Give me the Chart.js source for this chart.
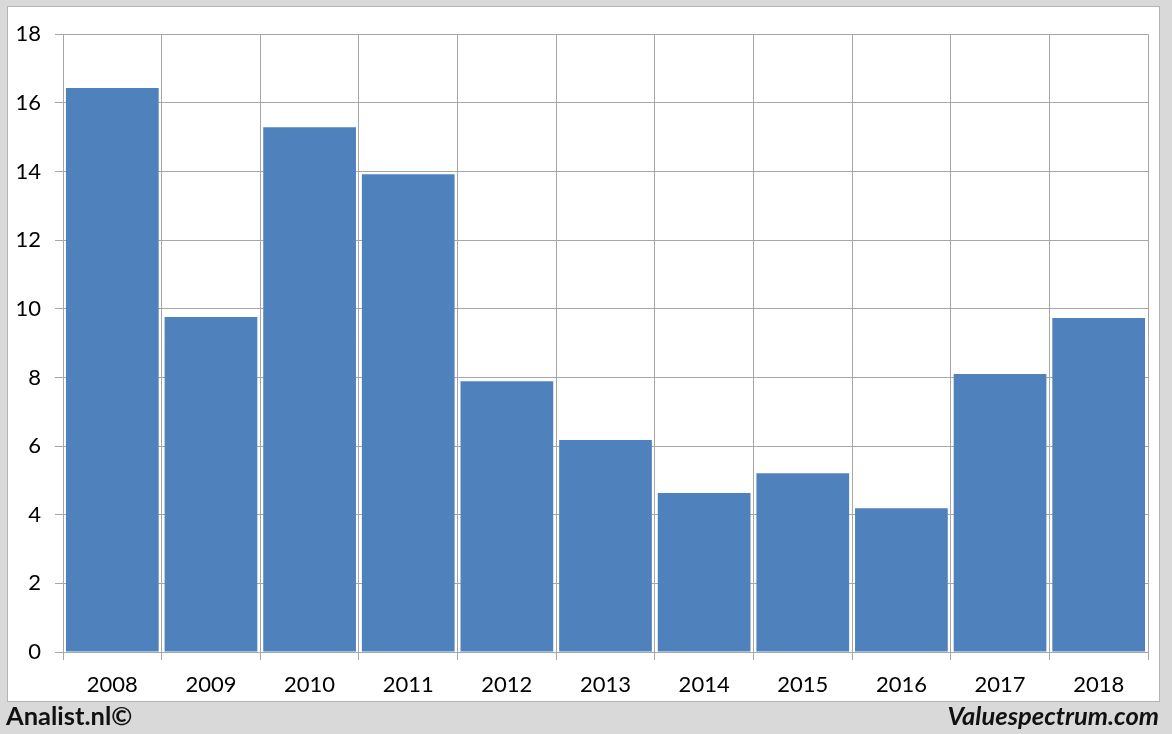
<!DOCTYPE html>
<html>
<head>
<meta charset="utf-8">
<script src="https://cdn.jsdelivr.net/npm/chart.js@4.4.0/dist/chart.umd.min.js"></script>
<style>
  html, body { margin: 0; padding: 0; }
  body { width: 1172px; height: 734px; background: #d9d9d9; position: relative; overflow: hidden; font-family: Lato, "Open Sans", sans-serif; }
  #box { position: absolute; left: 7px; top: 6px; width: 1151px; height: 694px; background: #fff; border: 1px solid #b4b4b4; }
  #box canvas { display: block; }
  .foot { position: absolute; top: 700px; font-size: 25.5px; font-weight: bold; color: #111; }
  #left { left: 6px; }
  #right { right: 13px; font-style: italic; }
</style>
</head>
<body>
<div id="box"><canvas id="chart" width="1151" height="694"></canvas></div>
<div class="foot" id="left">Analist.nl©</div>
<div class="foot" id="right">Valuespectrum.com</div>
<script>
// years and values
const years = ['2008', '2009', '2010', '2011', '2012', '2013', '2014', '2015', '2016', '2017', '2018'];
const values = [16.43, 9.76, 15.29, 13.92, 7.89, 6.18, 4.63, 5.21, 4.19, 8.10, 9.73];
const yMin = 0;
const yMax = 18;
const yStep = 2;

const gridColor = '#a6a6a6';

const ctx = document.getElementById('chart').getContext('2d');
new Chart(ctx, {
    type: 'bar',
    data: {
        labels: years,
        datasets: [{
            data: values,
            backgroundColor: '#4f81bd',
            borderWidth: 0,
            barPercentage: 0.94,
            categoryPercentage: 1
        }]
    },
    options: {
        responsive: false,
        animation: false,
        layout: { padding: { top: 27, right: 11, left: 0, bottom: 0 } },
        plugins: {
            legend: { display: false },
            tooltip: { enabled: false }
        },
        scales: {
            x: {
                grid: { color: gridColor, lineWidth: 1, tickLength: 8, offset: true },
                border: { color: gridColor },
                ticks: { color: '#000', font: { family: 'Lato', size: 22 }, padding: 12 },
                afterFit(scale) { scale.height = 49; }
            },
            y: {
                min: yMin,
                max: yMax,
                grid: { color: gridColor, lineWidth: 1, tickLength: 8 },
                border: { color: gridColor },
                ticks: { stepSize: yStep, color: '#000', font: { family: 'Lato', size: 22 }, padding: 14 },
                afterFit(scale) { scale.width = 55; }
            }
        }
    }
});
</script>
</body>
</html>
